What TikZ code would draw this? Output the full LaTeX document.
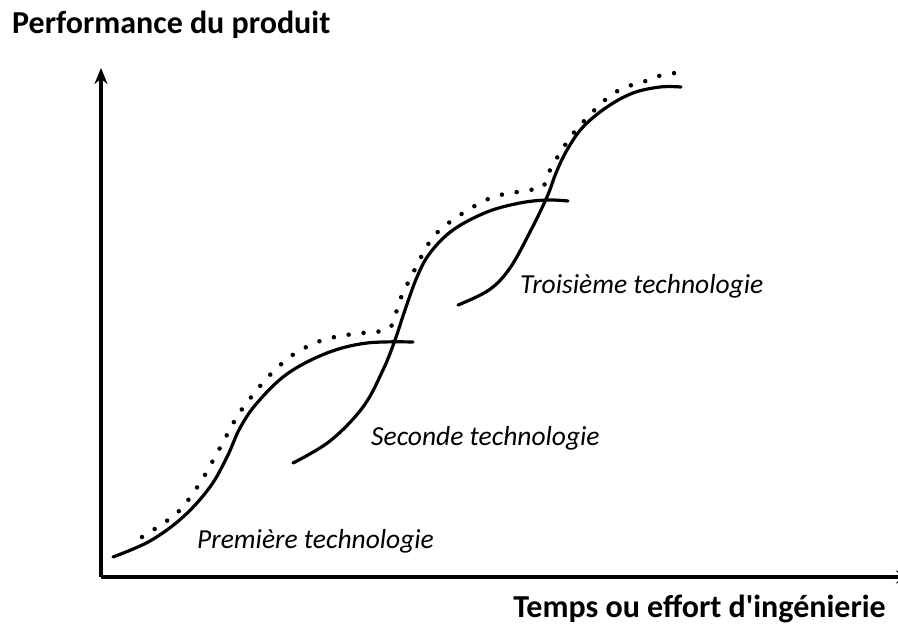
\documentclass[tikz,border=0pt]{standalone}
\usepackage{fontspec}
\setmainfont{Carlito}
\usetikzlibrary{arrows.meta}

\begin{document}
\begin{tikzpicture}[x=1pt,y=-1pt]
\useasboundingbox (0,0) rectangle (898,627);

% axes
\coordinate (O) at (101,577);
\coordinate (ytop) at (101,68);
\coordinate (xend) at (912,577);
\draw[line width=3.5pt,-{Stealth[length=16pt,width=13pt]}] (O) -- (ytop);
\draw[line width=3.5pt,-{Stealth[length=16pt,width=13pt]}] (O) -- (xend);

\node[inner sep=0,anchor=base west] (yl) at (12,33) {\fontsize{32}{36}\selectfont\bfseries Performance du produit};
\node[inner sep=0,anchor=base east] (xl) at (886,617) {\fontsize{32}{36}\selectfont\bfseries Temps ou effort d\textquotesingle ing\'enierie};

% the three S curves
\draw[line width=3.2pt,line cap=round] plot[smooth,tension=0.6] coordinates {(113,557) (150,541) (183,517) (210,487) (227,457) (240,428) (257,403) (287,374) (327,353) (367,343) (413,342)};
\draw[line width=3.2pt,line cap=round] plot[smooth,tension=0.6] coordinates {(293,463) (330,441) (363,407) (383,370) (395,340) (405,310) (417,277) (430,253) (453,230) (487,212) (520,203) (547,200) (568,201)};
\draw[line width=3.2pt,line cap=round] plot[smooth,tension=0.6] coordinates {(458,305) (489,290) (510,268) (530,232) (547,197) (556,173) (567,150) (583,127) (607,107) (633,93) (660,87) (681,87)};

% envelope
\draw[line width=4.5pt,line cap=round,dash pattern=on 0pt off 15pt] plot[smooth,tension=0.5] coordinates {(142,537) (177,513) (200,483) (221,446) (240,412) (268,377) (294,354) (323,340) (353,334) (382,331) (392,325) (400,300) (413,273) (433,237) (460,215) (493,197) (530,190) (543,187) (550,170) (560,153) (572,135) (585,120) (605,100) (623,88) (643,82) (662,75) (684,72)};

\node[inner sep=0,anchor=base west] (t1) at (197,548) {\fontsize{27.5}{32}\selectfont\itshape Premi\`ere technologie};
\node[inner sep=0,anchor=base west] (t2) at (371,445) {\fontsize{27.5}{32}\selectfont\itshape Seconde technologie};
\node[inner sep=0,anchor=base west] (t3) at (520,293) {\fontsize{27.5}{32}\selectfont\itshape Troisi\`eme technologie};

\end{tikzpicture}
\end{document}
